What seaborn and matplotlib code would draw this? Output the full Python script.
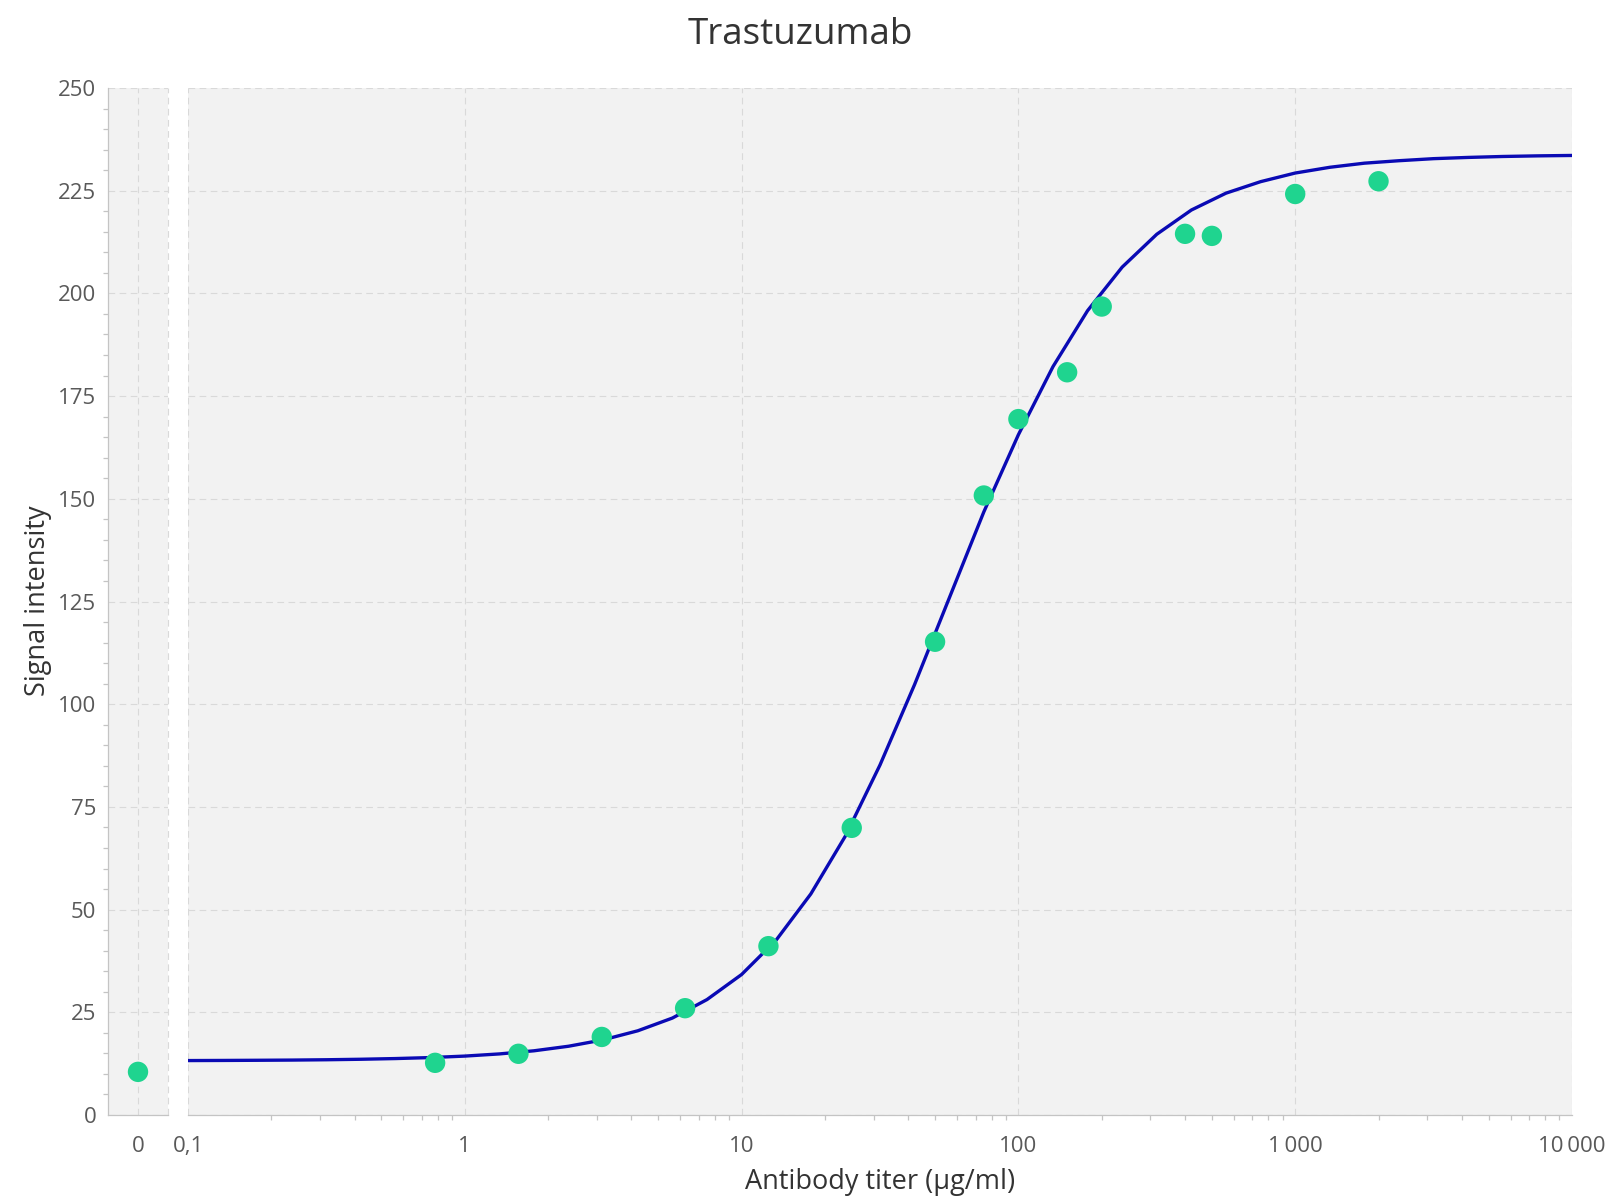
import matplotlib
matplotlib.use("Agg")
import matplotlib.pyplot as plt
import seaborn as sns
from matplotlib.ticker import FixedLocator, MultipleLocator, NullFormatter

# ---------------- data ----------------
zero_x = [0]
zero_y = [10.5]

titer = [0.78125, 1.5625, 3.125, 6.25, 12.5, 25, 50, 75, 100, 150, 200, 400, 500, 1000, 2000]
signal = [12.7, 14.9, 19.0, 26.0, 41.1, 69.9, 115.2, 150.8, 169.4, 180.8, 196.8, 214.5, 214.0, 224.2, 227.3]

fit_x = [0.1, 0.1334, 0.1778, 0.2371, 0.3162, 0.4217, 0.5623, 0.7499,
         1.0, 1.334, 1.778, 2.371, 3.162, 4.217, 5.623, 7.499,
         10.0, 13.34, 17.78, 23.71, 31.62, 42.17, 56.23, 74.99,
         100.0, 133.4, 177.8, 237.1, 316.2, 421.7, 562.3, 749.9,
         1000.0, 1334, 1778, 2371, 3162, 4217, 5623, 7499, 10000.0]
fit_y = [13.25, 13.28, 13.32, 13.37, 13.45, 13.57, 13.74, 13.98,
         14.34, 14.87, 15.63, 16.74, 18.3, 20.5, 23.6, 28.1,
         34.2, 42.6, 53.8, 67.9, 85.2, 104.8, 125.8, 146.8,
         165.6, 182.2, 195.8, 206.4, 214.4, 220.3, 224.4, 227.2,
         229.3, 230.7, 231.7, 232.3, 232.8, 233.1, 233.33, 233.48, 233.58]

x_major = [0.1, 1, 10, 100, 1000, 10000]
x_major_labels = ["0,1", "1", "10", "100", "1\u2009000", "10\u2009000"]

title = "Trastuzumab"
xlabel = "Antibody titer (µg/ml)"
ylabel = "Signal intensity"

# ---------------- style ----------------
sns.set_theme(style="white")
plt.rcParams["font.family"] = ["Open Sans", "DejaVu Sans"]

PT_COLOR = "#1fd48f"
LINE_COLOR = "#0a0ab4"
BG = "#f2f2f2"
GRID = "#d9d9d9"
SPINE = "#c4c4c4"
TXT = "#595959"
TICK_FS = 16
MAJ_LEN = 6.5
MIN_LEN = 3.6

W, H = 1605, 1201
fig = plt.figure(figsize=(W / 100, H / 100), dpi=100)
fig.patch.set_facecolor("white")


def rect(l, t, r, b):
    return [l / W, 1 - b / H, (r - l) / W, (b - t) / H]


ax0 = fig.add_axes(rect(108, 88, 168, 1115))
ax = fig.add_axes(rect(188, 88, 1572, 1115))

dash = (0, (6, 4))
for a in (ax0, ax):
    a.set_facecolor(BG)
    a.set_ylim(0, 250)
    a.yaxis.set_major_locator(MultipleLocator(25))
    a.yaxis.set_minor_locator(MultipleLocator(5))
    a.grid(True, which="major", linestyle=dash, color=GRID, linewidth=0.8)
    a.set_axisbelow(True)
    for s in ("top", "right"):
        a.spines[s].set_visible(False)
    a.spines["bottom"].set_color(SPINE)
    a.spines["bottom"].set_linewidth(0.9)

# left panel (zero concentration)
sns.scatterplot(x=zero_x, y=zero_y, ax=ax0, color=PT_COLOR, s=215,
                edgecolor="none", zorder=3, clip_on=False)
ax0.set_xlim(-1, 1)
ax0.xaxis.set_major_locator(FixedLocator([0]))
ax0.set_xticklabels(["0"])
ax0.spines["left"].set_color(SPINE)
ax0.spines["left"].set_linewidth(0.9)
ax0.axvline(1, linestyle=dash, color=GRID, linewidth=0.8, clip_on=False, zorder=0)
ax0.tick_params(axis="x", which="major", length=MAJ_LEN, width=0.9, color=SPINE,
                labelcolor=TXT, labelsize=TICK_FS, direction="out", pad=8.5)
ax0.tick_params(axis="y", which="major", length=MAJ_LEN, width=0.9, color=SPINE,
                labelcolor=TXT, labelsize=TICK_FS, direction="out", pad=2)
ax0.tick_params(axis="y", which="minor", length=MIN_LEN, width=0.9, color=SPINE, left=True)
ax0.tick_params(axis="x", which="minor", bottom=False)
ax0.set_xlabel("")
ax0.set_ylabel("")

# main panel (log axis)
sns.lineplot(x=fit_x, y=fit_y, ax=ax, color=LINE_COLOR, linewidth=2.4,
             sort=False, zorder=2)
sns.scatterplot(x=titer, y=signal, ax=ax, color=PT_COLOR, s=215,
                edgecolor="none", zorder=3)
ax.set_xscale("log")
ax.set_xlim(0.1, 10000)
ax.set_ylim(0, 250)
ax.xaxis.set_major_locator(FixedLocator(x_major))
ax.set_xticklabels(x_major_labels)
minor = [m * 10.0 ** e for e in range(-1, 4) for m in range(2, 10)]
ax.xaxis.set_minor_locator(FixedLocator(minor))
ax.xaxis.set_minor_formatter(NullFormatter())
ax.spines["left"].set_visible(False)
ax.tick_params(axis="x", which="major", length=MAJ_LEN, width=0.9, color=SPINE,
               labelcolor=TXT, labelsize=TICK_FS, direction="out", pad=8.5)
ax.tick_params(axis="x", which="minor", length=MIN_LEN, width=0.9, color=SPINE, bottom=True)
ax.tick_params(axis="y", which="both", left=False, labelleft=False)
ax.set_xlabel("")
ax.set_ylabel("")

# texts
fig.text(800 / W, 1 - 35 / H, title, ha="center", va="center",
         fontsize=26.5, color="#333333")
fig.text(880 / W, 1 - 1182 / H, xlabel, ha="center", va="center",
         fontsize=19.5, color="#333333")
fig.text(38 / W, 1 - 601 / H, ylabel, ha="center", va="center",
         rotation=90, fontsize=19.5, color="#333333")

fig.savefig("out.png", dpi=100)
